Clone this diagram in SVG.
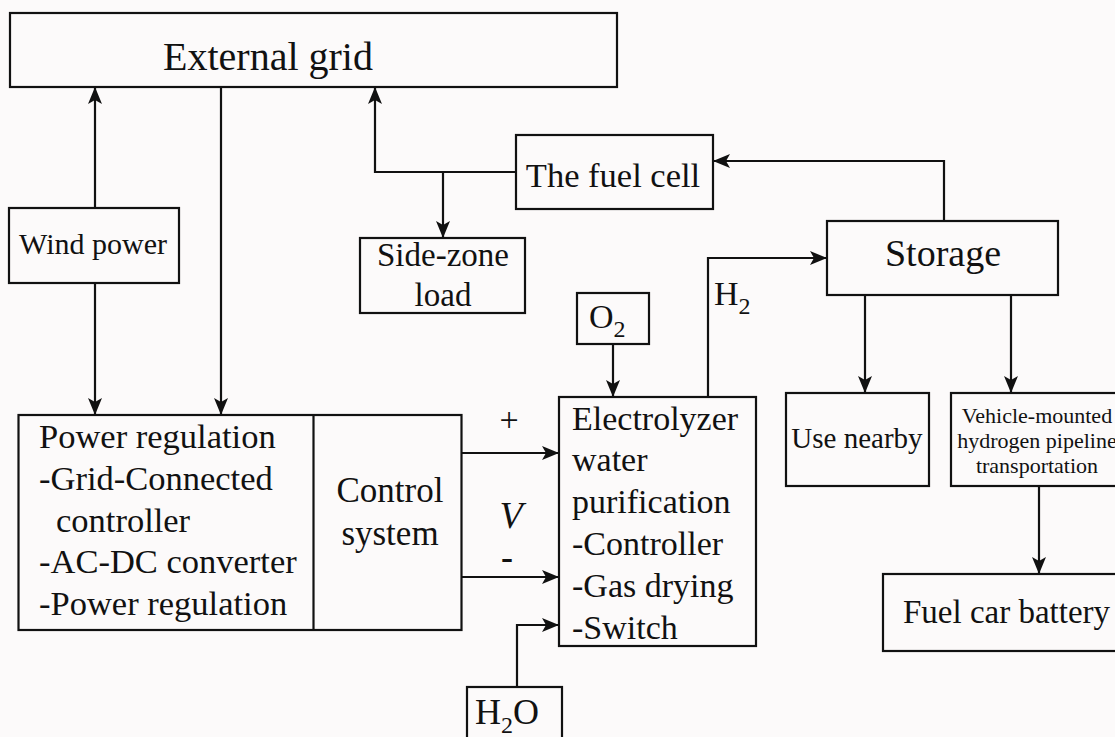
<svg xmlns="http://www.w3.org/2000/svg" width="1115" height="737" viewBox="0 0 1115 737">
  <style>
    .box { fill: none; stroke: #111; stroke-width: 2.2; }
    .ln { fill: none; stroke: #111; stroke-width: 2.2; }
    .t { font-family: "Liberation Serif", "Times New Roman", serif; fill: #111; }
    .c { text-anchor: middle; }
  </style>
  <defs>
    <marker id="ah" markerUnits="userSpaceOnUse" markerWidth="18" markerHeight="14" refX="16" refY="7" orient="auto">
      <path d="M0,0 L17,7 L0,14 L4,7 Z" fill="#111"/>
    </marker>
  </defs>
  <rect width="1115" height="737" fill="#fcfafa"/>

  <g id="connectors">
    <path class="ln" d="M95,208 V88" marker-end="url(#ah)"/>
    <path class="ln" d="M95,283 V414" marker-end="url(#ah)"/>
    <path class="ln" d="M221,87 V414" marker-end="url(#ah)"/>
    <path class="ln" d="M516,172 H375 V88" marker-end="url(#ah)"/>
    <path class="ln" d="M443,172 V237" marker-end="url(#ah)"/>
    <path class="ln" d="M944,221 V161 H714" marker-end="url(#ah)"/>
    <path class="ln" d="M708,397 V258 H826" marker-end="url(#ah)"/>
    <path class="ln" d="M613,344 V396" marker-end="url(#ah)"/>
    <path class="ln" d="M865,295 V392" marker-end="url(#ah)"/>
    <path class="ln" d="M1011,295 V392" marker-end="url(#ah)"/>
    <path class="ln" d="M1039,486 V573" marker-end="url(#ah)"/>
    <path class="ln" d="M462,453 H558" marker-end="url(#ah)"/>
    <path class="ln" d="M462,577 H558" marker-end="url(#ah)"/>
    <path class="ln" d="M517,687 V625 H558" marker-end="url(#ah)"/>
  </g>

  <g id="external-grid">
    <rect class="box" x="10" y="13" width="607" height="74"/>
    <text class="t c" x="268" y="70" font-size="40">External grid</text>
  </g>

  <g id="wind-power">
    <rect class="box" x="9" y="208" width="170" height="75"/>
    <text class="t c" x="93" y="254" font-size="30">Wind power</text>
  </g>

  <g id="fuel-cell">
    <rect class="box" x="516" y="135" width="197" height="74"/>
    <text class="t c" x="613" y="187" font-size="34.5">The fuel cell</text>
  </g>

  <g id="side-zone-load">
    <rect class="box" x="360" y="238" width="165" height="75"/>
    <text class="t c" x="443" y="266" font-size="33">Side-zone</text>
    <text class="t c" x="443" y="306" font-size="33">load</text>
  </g>

  <g id="storage">
    <rect class="box" x="827" y="221" width="231" height="74"/>
    <text class="t c" x="943" y="266" font-size="38">Storage</text>
  </g>

  <g id="o2">
    <rect class="box" x="577" y="293" width="72" height="51"/>
    <text class="t" x="589" y="328" font-size="34">O<tspan font-size="24" dy="9">2</tspan></text>
  </g>

  <g id="h2-label">
    <text class="t" x="714" y="305" font-size="34">H<tspan font-size="24" dy="9">2</tspan></text>
  </g>

  <g id="power-regulation">
    <rect class="box" x="18.5" y="415" width="443" height="215"/>
    <line class="ln" x1="313.5" y1="415" x2="313.5" y2="630"/>
    <text class="t" x="39" y="448" font-size="34.5">Power regulation</text>
    <text class="t" x="39" y="490" font-size="34.5">-Grid-Connected</text>
    <text class="t" x="56" y="532" font-size="34.5">controller</text>
    <text class="t" x="39" y="573" font-size="34.5">-AC-DC converter</text>
    <text class="t" x="39" y="615" font-size="34.5">-Power regulation</text>
  </g>

  <g id="control-system">
    <text class="t c" x="390" y="502" font-size="35">Control</text>
    <text class="t c" x="390" y="545" font-size="35">system</text>
  </g>

  <g id="voltage-labels">
    <text class="t c" x="509" y="431" font-size="34">+</text>
    <text class="t c" x="511" y="528" font-size="38" font-style="italic">V</text>
    <text class="t c" x="507" y="569" font-size="36" font-weight="bold">-</text>
  </g>

  <g id="electrolyzer">
    <rect class="box" x="559" y="397" width="197" height="249"/>
    <text class="t" x="572" y="430" font-size="34">Electrolyzer</text>
    <text class="t" x="572" y="471" font-size="34">water</text>
    <text class="t" x="572" y="513" font-size="34">purification</text>
    <text class="t" x="572" y="555" font-size="34">-Controller</text>
    <text class="t" x="572" y="597" font-size="34">-Gas drying</text>
    <text class="t" x="572" y="639" font-size="34">-Switch</text>
  </g>

  <g id="h2o">
    <rect class="box" x="467" y="687" width="95" height="60"/>
    <text class="t" x="475" y="724" font-size="36">H<tspan font-size="24" dy="9">2</tspan><tspan dy="-9">O</tspan></text>
  </g>

  <g id="use-nearby">
    <rect class="box" x="786" y="393" width="143" height="93"/>
    <text class="t c" x="857" y="448" font-size="29">Use nearby</text>
  </g>

  <g id="vehicle-transport">
    <rect class="box" x="951" y="393" width="170" height="93"/>
    <text class="t c" x="1037" y="423" font-size="22">Vehicle-mounted</text>
    <text class="t c" x="1037" y="448" font-size="22">hydrogen pipeline</text>
    <text class="t c" x="1037" y="473" font-size="22">transportation</text>
  </g>

  <g id="fuel-car-battery">
    <rect class="box" x="883" y="574" width="240" height="77"/>
    <text class="t" x="903" y="623" font-size="33">Fuel car battery</text>
  </g>
</svg>
